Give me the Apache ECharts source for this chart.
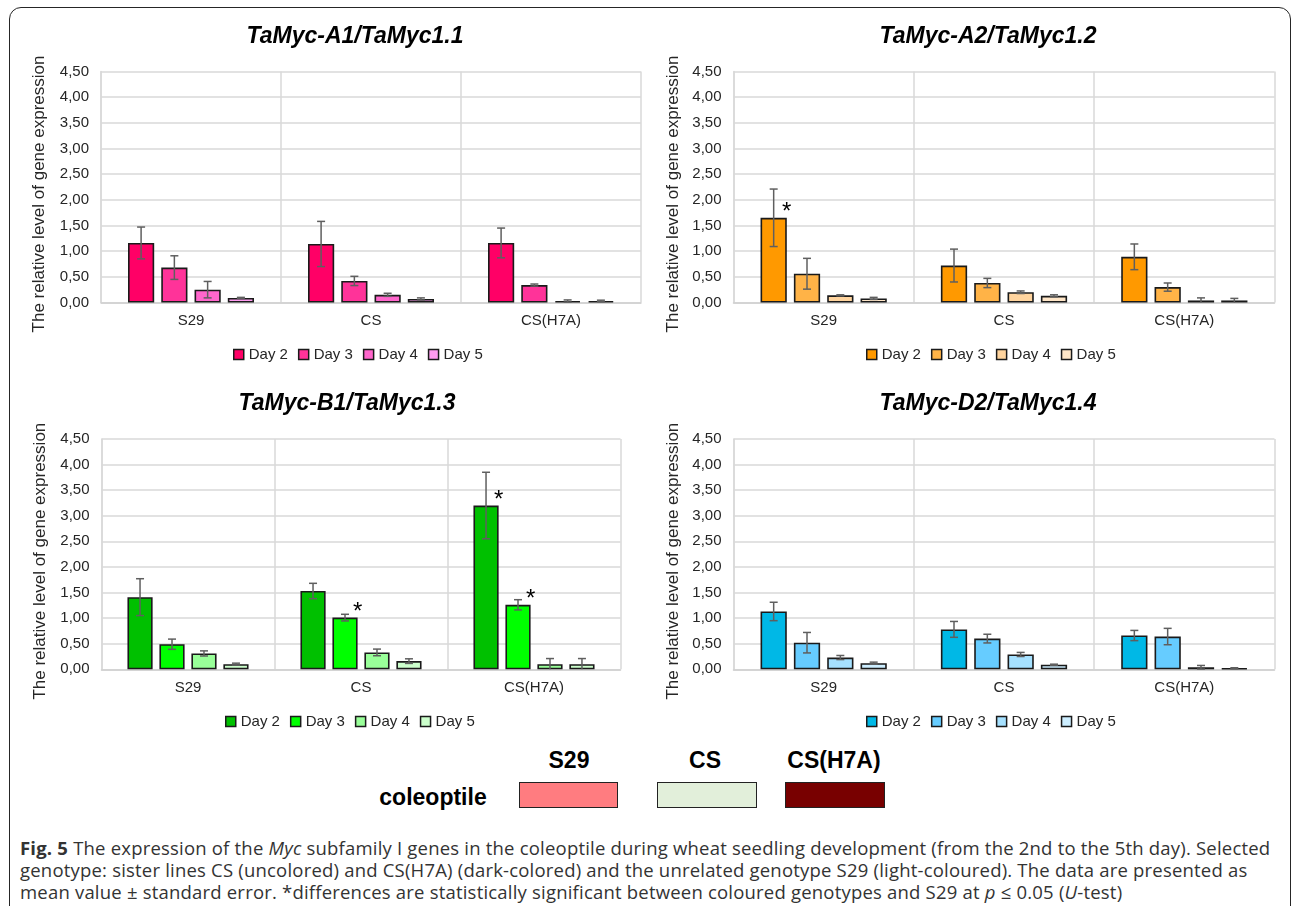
<!DOCTYPE html>
<html>
<head>
<meta charset="utf-8">
<script src="https://cdn.jsdelivr.net/npm/echarts@6/dist/echarts.min.js"></script>
<style>
body {
  margin: 0;
  width: 1292px;
  height: 906px;
  position: relative;
  overflow: hidden;
  background: #fff;
  font-family: 'Liberation Sans', Arial, sans-serif;
}
.marco {
  position: absolute;
  left: 9px;
  top: 7px;
  width: 1282px;
  height: 930px;
  border: 1.5px solid #262626;
  border-radius: 12px;
  box-sizing: border-box;
}
.grafico {
  position: absolute;
  width: 646px;
  height: 370px;
}
.clave-texto {
  position: absolute;
  font-weight: bold;
  font-size: 23px;
  color: #000;
  transform: translate(-50%, -50%);
  white-space: nowrap;
}
.clave-caja {
  position: absolute;
  height: 26px;
  border: 1.5px solid #222;
  box-sizing: border-box;
}
.leyenda {
  position: absolute;
  left: 20px;
  top: 837px;
  width: 1270px;
  font-family: 'Open Sans', sans-serif;
  font-size: 18.5px;
  letter-spacing: 0.2px;
  line-height: 22px;
  color: #333;
  white-space: nowrap;
}
</style>
</head>
<body>
<div class="marco"></div>

<div id="grafico_a1" class="grafico" style="left:0;top:0"></div>
<div id="grafico_a2" class="grafico" style="left:646px;top:0"></div>
<div id="grafico_b1" class="grafico" style="left:0;top:370px"></div>
<div id="grafico_d2" class="grafico" style="left:646px;top:370px"></div>

<!-- clave de colores de los genotipos -->
<div class="clave-texto" style="left:569px;top:760px">S29</div>
<div class="clave-texto" style="left:705px;top:760px">CS</div>
<div class="clave-texto" style="left:834px;top:760px">CS(H7A)</div>
<div class="clave-texto" style="left:433px;top:797px">coleoptile</div>
<div class="clave-caja" style="left:519px;top:782px;width:99px;background:#ff7c80"></div>
<div class="clave-caja" style="left:657px;top:782px;width:100px;background:#e2efda"></div>
<div class="clave-caja" style="left:785px;top:782px;width:100px;background:#780000"></div>

<div class="leyenda">
<b>Fig. 5</b> The expression of the <i>Myc</i> subfamily I genes in the coleoptile during wheat seedling development (from the 2nd to the 5th day). Selected<br>
genotype: sister lines CS (uncolored) and CS(H7A) (dark-colored) and the unrelated genotype S29 (light-coloured). The data are presented as<br>
mean value ± standard error. *differences are statistically significant between coloured genotypes and S29 at <i>p</i> ≤ 0.05 (<i>U</i>-test)
</div>

<script>
const genotipos = ['S29', 'CS', 'CS(H7A)']
const dias = ['Day 2', 'Day 3', 'Day 4', 'Day 5']

// medias por dia (filas) para S29, CS, CS(H7A)
const a1Media = [[1.16, 1.14, 1.16], [0.68, 0.42, 0.34], [0.25, 0.15, 0.03], [0.09, 0.07, 0.03]]
const a1Error = [[0.31, 0.44, 0.29], [0.23, 0.09, 0.02], [0.16, 0.03, 0.02], [0.01, 0.02, 0.015]]
const a1Sig = []

const a2Media = [[1.65, 0.72, 0.89], [0.56, 0.38, 0.30], [0.14, 0.20, 0.04], [0.08, 0.13, 0.04]]
const a2Error = [[0.56, 0.32, 0.25], [0.30, 0.09, 0.08], [0.01, 0.025, 0.05], [0.02, 0.02, 0.04]]
const a2Sig = [[0, 0]]

const b1Media = [[1.41, 1.53, 3.20], [0.49, 1.01, 1.26], [0.31, 0.33, 0.10], [0.10, 0.16, 0.10]]
const b1Error = [[0.36, 0.15, 0.65], [0.10, 0.065, 0.10], [0.05, 0.065, 0.11], [0.02, 0.045, 0.11]]
const b1Sig = [[1, 1], [0, 2], [1, 2]]

const d2Media = [[1.13, 0.78, 0.66], [0.52, 0.60, 0.64], [0.23, 0.29, 0.04], [0.12, 0.09, 0.02]]
const d2Error = [[0.18, 0.155, 0.10], [0.20, 0.085, 0.16], [0.04, 0.04, 0.035], [0.02, 0.01, 0.01]]
const d2Sig = []

const a1Colores = ['#ff0066', '#ff3399', '#ff66cc', '#ff9cf0']
const a2Colores = ['#ff9900', '#ffb347', '#ffd49e', '#ffe6c8']
const b1Colores = ['#00c000', '#00ff00', '#99ff99', '#ccffcc']
const d2Colores = ['#00b8e6', '#66ccff', '#a6e1ff', '#cdeeff']

const paneles = [
  { id: 'grafico_a1', titulo: 'TaMyc-A1/TaMyc1.1', media: a1Media, error: a1Error, sig: a1Sig, colores: a1Colores,
    grid: { left: 101, right: 5, top: 71.5, bottom: 67.5 }, tituloX: 355, tituloY: 25, leyendaX: 233, leyendaY: 347, nameGap: 53 },
  { id: 'grafico_a2', titulo: 'TaMyc-A2/TaMyc1.2', media: a2Media, error: a2Error, sig: a2Sig, colores: a2Colores,
    grid: { left: 87.5, right: 17.5, top: 71.5, bottom: 67.5 }, tituloX: 342, tituloY: 25, leyendaX: 220, leyendaY: 347, nameGap: 49 },
  { id: 'grafico_b1', titulo: 'TaMyc-B1/TaMyc1.3', media: b1Media, error: b1Error, sig: b1Sig, colores: b1Colores,
    grid: { left: 101.5, right: 25.5, top: 69, bottom: 70.7 }, tituloX: 347, tituloY: 22, leyendaX: 225, leyendaY: 344, nameGap: 53 },
  { id: 'grafico_d2', titulo: 'TaMyc-D2/TaMyc1.4', media: d2Media, error: d2Error, sig: d2Sig, colores: d2Colores,
    grid: { left: 87.5, right: 17.5, top: 69, bottom: 70.7 }, tituloX: 342, tituloY: 22, leyendaX: 220, leyendaY: 344, nameGap: 49 }
]

const fuente = "'Liberation Sans', Arial, sans-serif"
const gris = '#d9d9d9'

function graficar(p) {
  const chart = echarts.init(document.getElementById(p.id))

  const barras = dias.map((dia, d) => ({
    name: dia,
    type: 'bar',
    barGap: '27%',
    barCategoryGap: '30%',
    z: 2,
    itemStyle: { color: p.colores[d], borderColor: '#1a1a1a', borderWidth: 1.6 },
    data: p.media[d].map((v, g) => {
      const marcado = p.sig.some(s => s[0] === d && s[1] === g)
      if (!marcado) return v
      return {
        value: v,
        label: {
          show: true,
          formatter: '*',
          position: ['100%', -5],
          align: 'center',
          verticalAlign: 'middle',
          fontSize: 24,
          fontFamily: fuente,
          color: '#000'
        }
      }
    })
  }))

  // barras de error dibujadas a mano sobre cada barra
  const errores = dias.map((dia, d) => ({
    type: 'custom',
    silent: true,
    z: 3,
    data: p.media[d].map((v, g) => [g, v, p.error[d][g]]),
    renderItem: (params, api) => {
      const g = api.value(0)
      const media = api.value(1)
      const se = api.value(2)
      const banda = api.size([1, 0])[0]
      const w = banda * 0.7 / (4 + 3 * 0.27)
      const dx = -banda * 0.35 + d * w * 1.27 + w / 2
      const arriba = api.coord([g, media + se])
      const abajo = api.coord([g, Math.max(0, media - se)])
      const x = arriba[0] + dx
      const estilo = { stroke: '#5f5f5f', lineWidth: 1.5 }
      const hijos = [
        { type: 'line', shape: { x1: x, y1: arriba[1], x2: x, y2: abajo[1] }, style: estilo },
        { type: 'line', shape: { x1: x - 4, y1: arriba[1], x2: x + 4, y2: arriba[1] }, style: estilo }
      ]
      if (media - se > 0) {
        hijos.push({ type: 'line', shape: { x1: x - 4, y1: abajo[1], x2: x + 4, y2: abajo[1] }, style: estilo })
      }
      return { type: 'group', children: hijos }
    }
  }))

  const option = {
    animation: false,
    textStyle: { fontFamily: fuente },
    title: {
      text: p.titulo,
      left: p.tituloX,
      top: p.tituloY,
      textAlign: 'center',
      padding: 0,
      textStyle: { fontSize: 23, fontWeight: 'bold', fontStyle: 'italic', color: '#000', fontFamily: fuente }
    },
    legend: {
      data: dias,
      left: p.leyendaX,
      top: p.leyendaY,
      padding: 0,
      icon: 'rect',
      itemWidth: 10,
      itemHeight: 10,
      itemGap: 10,
      itemStyle: { borderColor: '#1a1a1a', borderWidth: 1.5 },
      textStyle: { fontSize: 15, color: '#262626', fontFamily: fuente }
    },
    grid: p.grid,
    xAxis: {
      type: 'category',
      data: genotipos,
      axisLine: { lineStyle: { color: '#cfcfcf', width: 1.5 } },
      axisTick: { show: false },
      axisLabel: { fontSize: 15, color: '#262626', margin: 11, fontFamily: fuente },
      splitLine: { show: true, interval: 0, lineStyle: { color: gris, width: 1.5 } }
    },
    yAxis: {
      type: 'value',
      min: 0,
      max: 4.5,
      interval: 0.5,
      name: 'The relative level of gene expression',
      nameLocation: 'middle',
      nameGap: p.nameGap,
      nameTextStyle: { fontSize: 17, color: '#262626', fontFamily: fuente, padding: [0, 14, 0, 0] },
      axisLine: { show: true, lineStyle: { color: gris, width: 1.5 } },
      axisTick: { show: false },
      axisLabel: {
        fontSize: 15,
        color: '#262626',
        margin: 12,
        fontFamily: fuente,
        formatter: v => v.toFixed(2).replace('.', ',')
      },
      splitLine: { show: true, lineStyle: { color: gris, width: 1.5 } }
    },
    series: barras.concat(errores)
  }

  chart.setOption(option)
}

paneles.forEach(graficar)
</script>
</body>
</html>
